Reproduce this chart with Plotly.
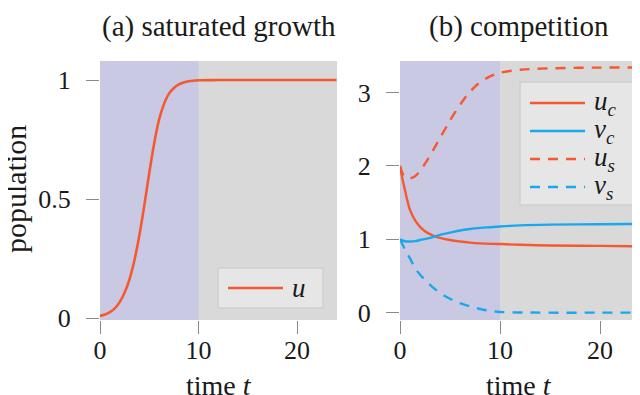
import plotly.graph_objects as go

# ---------------- data ----------------
t_a = [0, 0.5, 1, 1.5, 2, 2.5, 3, 3.5, 4, 4.5, 5, 5.5, 6, 6.5, 7, 7.5, 8, 8.5, 9, 10,
       12, 16, 20, 24]
u_a = [0.01, 0.016, 0.026, 0.042, 0.068, 0.108, 0.165, 0.245, 0.35, 0.475, 0.61, 0.735,
       0.835, 0.9, 0.943, 0.967, 0.982, 0.99, 0.995, 0.999, 1.0, 1.0, 1.0, 1.0]

t_uc = [0, 0.25, 0.5, 0.75, 1, 1.5, 2, 2.5, 3, 3.5, 4, 5, 6, 7, 8, 10, 12, 15, 20, 24]
u_c = [2.0, 1.82, 1.67, 1.52, 1.40, 1.26, 1.17, 1.11, 1.07, 1.04, 1.02, 0.99, 0.97,
       0.955, 0.945, 0.935, 0.925, 0.915, 0.91, 0.905]

t_vc = [0, 0.3, 0.7, 1, 1.5, 2, 3, 4, 5, 6, 7, 8, 9, 10, 12, 15, 20, 24]
v_c = [1.0, 0.98, 0.97, 0.97, 0.975, 0.99, 1.02, 1.06, 1.09, 1.12, 1.14, 1.155, 1.165,
       1.175, 1.19, 1.20, 1.205, 1.21]

t_us = [0, 0.25, 0.5, 1, 1.5, 2, 2.5, 3, 3.5, 4, 4.5, 5, 5.5, 6, 6.5, 7, 7.5, 8, 9, 10,
        12, 15, 20, 24]
u_s = [2.0, 1.9, 1.85, 1.83, 1.86, 1.93, 2.03, 2.14, 2.26, 2.38, 2.50, 2.62, 2.73, 2.83,
       2.93, 3.01, 3.08, 3.14, 3.22, 3.27, 3.31, 3.33, 3.34, 3.34]

t_vs = [0, 0.5, 1, 1.5, 2, 3, 4, 5, 6, 7, 8, 9, 10, 12, 15, 20, 24]
v_s = [1.0, 0.86, 0.74, 0.61, 0.52, 0.38, 0.27, 0.19, 0.13, 0.085, 0.05, 0.025, 0.01,
       0.003, 0.0, 0.0, 0.0]

x_ticks = [0, 10, 20]
y_ticks_a = [0, 0.5, 1]
y_tick_text_a = ["0", "0.5", "1"]
y_ticks_b = [0, 1, 2, 3]
phase_end = 10

titles = ["(a) saturated growth", "(b) competition"]
x_title = "time <i>t</i>"
y_title = "population"
names_a = ["<i>u</i>"]
names_b = ["<i>u</i><sub><i>c</i></sub>", "<i>v</i><sub><i>c</i></sub>",
           "<i>u</i><sub><i>s</i></sub>", "<i>v</i><sub><i>s</i></sub>"]

# ---------------- styles ----------------
RED = "#f4592f"
BLUE = "#1aa8ea"
LAV = "#c9c9e4"
GRAY = "#d9d9d9"
LEG_BG = "#e6e6e6"
LEG_BORDER = "#cfcfcf"
FONT = "Liberation Serif"
W, H = 640, 395
DASH = "10px,8px"
OFF = 8  # page body margin


def px(xp):
    return (xp - OFF) / W


def py(yp):
    return (H - (yp - OFF)) / H


fig = go.Figure()
series_b = [(t_uc, u_c, RED, "solid"), (t_vc, v_c, BLUE, "solid"),
            (t_us, u_s, RED, DASH), (t_vs, v_s, BLUE, DASH)]

fig.add_trace(go.Scatter(x=t_a, y=u_a, mode="lines", name=names_a[0],
                         line=dict(color=RED, width=2.6, shape="spline"),
                         xaxis="x", yaxis="y", showlegend=False))
for (tt, yy, col, dash), nm in zip(series_b, names_b):
    fig.add_trace(go.Scatter(x=tt, y=yy, mode="lines", name=nm,
                             line=dict(color=col, width=2.4, dash=dash, shape="spline"),
                             xaxis="x2", yaxis="y2", showlegend=False))

ydom = [py(320), py(61)]
axis_common = dict(showgrid=False, zeroline=False, showline=False, ticks="outside",
                   ticklen=13, tickwidth=1, tickcolor="#8a8a8a", automargin=False,
                   tickfont=dict(family=FONT, size=26, color="#1a1a1a"))

fig.update_layout(
    width=W, height=H,
    margin=dict(l=0, r=0, t=0, b=0, autoexpand=False),
    paper_bgcolor="white",
    plot_bgcolor=GRAY,
    font=dict(family=FONT, size=26, color="#1a1a1a"),
    showlegend=False,
    xaxis=dict(domain=[px(100), px(337)], range=[0, 24.05], tickvals=x_ticks,
               anchor="y", ticklabelstandoff=-6, **axis_common),
    yaxis=dict(domain=ydom, range=[-0.007, 1.08], tickvals=y_ticks_a,
               ticktext=y_tick_text_a, anchor="x", ticklabelstandoff=10, **axis_common),
    xaxis2=dict(domain=[px(400), px(638)], range=[0, 23.8], tickvals=x_ticks,
                anchor="y2", ticklabelstandoff=-6, **axis_common),
    yaxis2=dict(domain=ydom, range=[-0.1, 3.43], tickvals=y_ticks_b,
                anchor="x2", ticklabelstandoff=10, **axis_common),
)

# phase shading
for xr, yr in [("x", "y domain"), ("x2", "y2 domain")]:
    fig.add_shape(type="rect", xref=xr, yref=yr, x0=0, x1=phase_end, y0=0, y1=1,
                  fillcolor=LAV, line_width=0, layer="below")

# titles and axis labels
centers = [px(218.5), px(519)]
for c, ttl in zip(centers, titles):
    fig.add_annotation(text=ttl, x=c, y=1.0, xref="paper", yref="paper",
                       xanchor="center", yanchor="top", showarrow=False,
                       font=dict(family=FONT, size=29))
    fig.add_annotation(text=x_title, x=c, y=py(385), xref="paper", yref="paper",
                       xanchor="center", yanchor="middle", showarrow=False,
                       font=dict(family=FONT, size=28))
fig.add_annotation(text=y_title, x=px(15), y=py(189), xref="paper", yref="paper",
                   xanchor="center", yanchor="middle", textangle=-90, showarrow=False,
                   font=dict(family=FONT, size=30))


# legends (drawn as boxes, sample lines and labels)
def draw_legend(box, rows, entries):
    x0, y0, x1, y1 = box
    fig.add_shape(type="rect", xref="paper", yref="paper", x0=px(x0), x1=px(x1),
                  y0=py(y1), y1=py(y0), fillcolor=LEG_BG,
                  line=dict(color=LEG_BORDER, width=1.5), layer="above")
    for yr, (nm, col, dash) in zip(rows, entries):
        fig.add_shape(type="line", xref="paper", yref="paper",
                      x0=px(x0 + 10), x1=px(x0 + 65), y0=py(yr), y1=py(yr),
                      line=dict(color=col, width=2.6, dash=dash), layer="above")
        fig.add_annotation(text=nm, x=px(x0 + 72), y=py(yr), xref="paper", yref="paper",
                           xanchor="left", yanchor="middle", showarrow=False,
                           font=dict(family=FONT, size=27))


draw_legend((218, 268, 323, 308), [288], [(names_a[0], RED, "solid")])
draw_legend((520, 82, 635, 205), [103, 131, 159, 187],
            [(nm, s[2], s[3]) for nm, s in zip(names_b, series_b)])

fig.write_html("out.html")
